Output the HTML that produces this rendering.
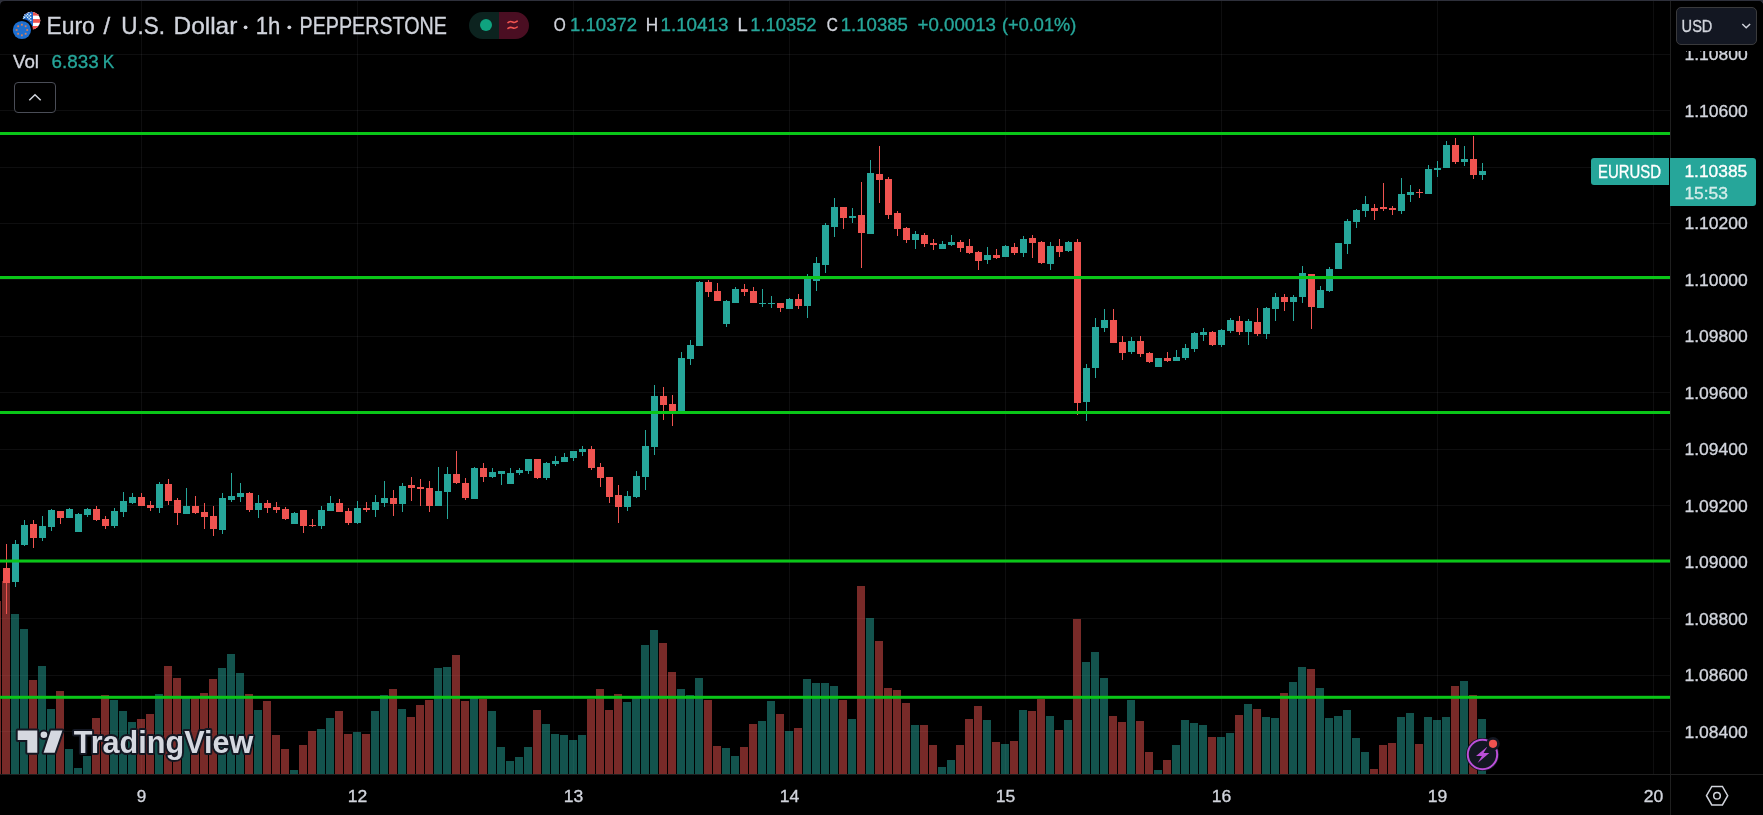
<!DOCTYPE html>
<html lang="en"><head><meta charset="utf-8"><title>EURUSD 1h chart</title>
<style>html,body{margin:0;padding:0;background:#2e303b;overflow:hidden}svg{display:block}text{font-family:"Liberation Sans",Arial,sans-serif}</style>
</head><body>
<svg width="1763" height="815" viewBox="0 0 1763 815" style="will-change:transform"><g>
<rect x="0" y="0" width="1763" height="815" fill="#2e303b"/>
<path d="M0 815V6Q0 1 5 1H1758Q1763 1 1763 6V815Z" fill="#000"/>
<g shape-rendering="crispEdges" fill="#f0f3fa" fill-opacity="0.06">
<rect x="0" y="54" width="1670" height="1"/>
<rect x="0" y="110" width="1670" height="1"/>
<rect x="0" y="167" width="1670" height="1"/>
<rect x="0" y="223" width="1670" height="1"/>
<rect x="0" y="279" width="1670" height="1"/>
<rect x="0" y="336" width="1670" height="1"/>
<rect x="0" y="392" width="1670" height="1"/>
<rect x="0" y="449" width="1670" height="1"/>
<rect x="0" y="505" width="1670" height="1"/>
<rect x="0" y="562" width="1670" height="1"/>
<rect x="0" y="618" width="1670" height="1"/>
<rect x="0" y="675" width="1670" height="1"/>
<rect x="0" y="731" width="1670" height="1"/>
<rect x="141" y="1" width="1" height="773"/>
<rect x="357" y="1" width="1" height="773"/>
<rect x="573" y="1" width="1" height="773"/>
<rect x="789" y="1" width="1" height="773"/>
<rect x="1005" y="1" width="1" height="773"/>
<rect x="1221" y="1" width="1" height="773"/>
<rect x="1437" y="1" width="1" height="773"/>
<rect x="1653" y="1" width="1" height="773"/>
</g>
<g shape-rendering="crispEdges">
<rect x="0" y="601" width="1" height="173" fill="#ef5350" fill-opacity="0.5"/>
<rect x="2" y="581" width="8" height="193" fill="#ef5350" fill-opacity="0.5"/>
<rect x="11" y="614" width="8" height="160" fill="#26a69a" fill-opacity="0.5"/>
<rect x="20" y="629" width="8" height="145" fill="#26a69a" fill-opacity="0.5"/>
<rect x="29" y="680" width="8" height="94" fill="#ef5350" fill-opacity="0.5"/>
<rect x="38" y="666" width="8" height="108" fill="#26a69a" fill-opacity="0.5"/>
<rect x="47" y="709" width="8" height="65" fill="#26a69a" fill-opacity="0.5"/>
<rect x="56" y="691" width="8" height="83" fill="#ef5350" fill-opacity="0.5"/>
<rect x="65" y="749" width="8" height="25" fill="#26a69a" fill-opacity="0.5"/>
<rect x="74" y="768" width="8" height="6" fill="#26a69a" fill-opacity="0.5"/>
<rect x="83" y="756" width="8" height="18" fill="#26a69a" fill-opacity="0.5"/>
<rect x="92" y="718" width="8" height="56" fill="#ef5350" fill-opacity="0.5"/>
<rect x="101" y="695" width="8" height="79" fill="#ef5350" fill-opacity="0.5"/>
<rect x="110" y="700" width="8" height="74" fill="#26a69a" fill-opacity="0.5"/>
<rect x="119" y="711" width="8" height="63" fill="#26a69a" fill-opacity="0.5"/>
<rect x="128" y="722" width="8" height="52" fill="#26a69a" fill-opacity="0.5"/>
<rect x="137" y="719" width="8" height="55" fill="#ef5350" fill-opacity="0.5"/>
<rect x="146" y="714" width="8" height="60" fill="#ef5350" fill-opacity="0.5"/>
<rect x="155" y="694" width="8" height="80" fill="#26a69a" fill-opacity="0.5"/>
<rect x="164" y="666" width="8" height="108" fill="#ef5350" fill-opacity="0.5"/>
<rect x="173" y="678" width="8" height="96" fill="#ef5350" fill-opacity="0.5"/>
<rect x="182" y="697" width="8" height="77" fill="#26a69a" fill-opacity="0.5"/>
<rect x="191" y="697" width="8" height="77" fill="#ef5350" fill-opacity="0.5"/>
<rect x="200" y="693" width="8" height="81" fill="#ef5350" fill-opacity="0.5"/>
<rect x="209" y="679" width="8" height="95" fill="#ef5350" fill-opacity="0.5"/>
<rect x="218" y="668" width="8" height="106" fill="#26a69a" fill-opacity="0.5"/>
<rect x="227" y="654" width="8" height="120" fill="#26a69a" fill-opacity="0.5"/>
<rect x="236" y="673" width="8" height="101" fill="#26a69a" fill-opacity="0.5"/>
<rect x="245" y="694" width="8" height="80" fill="#ef5350" fill-opacity="0.5"/>
<rect x="254" y="710" width="8" height="64" fill="#26a69a" fill-opacity="0.5"/>
<rect x="263" y="701" width="8" height="73" fill="#ef5350" fill-opacity="0.5"/>
<rect x="272" y="735" width="8" height="39" fill="#ef5350" fill-opacity="0.5"/>
<rect x="281" y="749" width="8" height="25" fill="#ef5350" fill-opacity="0.5"/>
<rect x="290" y="770" width="8" height="4" fill="#26a69a" fill-opacity="0.5"/>
<rect x="299" y="745" width="8" height="29" fill="#ef5350" fill-opacity="0.5"/>
<rect x="308" y="731" width="8" height="43" fill="#ef5350" fill-opacity="0.5"/>
<rect x="317" y="729" width="8" height="45" fill="#26a69a" fill-opacity="0.5"/>
<rect x="326" y="718" width="8" height="56" fill="#26a69a" fill-opacity="0.5"/>
<rect x="335" y="711" width="8" height="63" fill="#ef5350" fill-opacity="0.5"/>
<rect x="344" y="734" width="8" height="40" fill="#ef5350" fill-opacity="0.5"/>
<rect x="353" y="732" width="8" height="42" fill="#26a69a" fill-opacity="0.5"/>
<rect x="362" y="734" width="8" height="40" fill="#ef5350" fill-opacity="0.5"/>
<rect x="371" y="711" width="8" height="63" fill="#26a69a" fill-opacity="0.5"/>
<rect x="380" y="695" width="8" height="79" fill="#26a69a" fill-opacity="0.5"/>
<rect x="389" y="689" width="8" height="85" fill="#ef5350" fill-opacity="0.5"/>
<rect x="398" y="709" width="8" height="65" fill="#26a69a" fill-opacity="0.5"/>
<rect x="407" y="717" width="8" height="57" fill="#ef5350" fill-opacity="0.5"/>
<rect x="416" y="705" width="8" height="69" fill="#ef5350" fill-opacity="0.5"/>
<rect x="425" y="700" width="8" height="74" fill="#ef5350" fill-opacity="0.5"/>
<rect x="434" y="668" width="8" height="106" fill="#26a69a" fill-opacity="0.5"/>
<rect x="443" y="667" width="8" height="107" fill="#26a69a" fill-opacity="0.5"/>
<rect x="452" y="655" width="8" height="119" fill="#ef5350" fill-opacity="0.5"/>
<rect x="461" y="701" width="8" height="73" fill="#ef5350" fill-opacity="0.5"/>
<rect x="470" y="698" width="8" height="76" fill="#26a69a" fill-opacity="0.5"/>
<rect x="479" y="699" width="8" height="75" fill="#ef5350" fill-opacity="0.5"/>
<rect x="488" y="711" width="8" height="63" fill="#26a69a" fill-opacity="0.5"/>
<rect x="497" y="747" width="8" height="27" fill="#26a69a" fill-opacity="0.5"/>
<rect x="506" y="761" width="8" height="13" fill="#26a69a" fill-opacity="0.5"/>
<rect x="515" y="757" width="8" height="17" fill="#26a69a" fill-opacity="0.5"/>
<rect x="524" y="747" width="8" height="27" fill="#26a69a" fill-opacity="0.5"/>
<rect x="533" y="710" width="8" height="64" fill="#ef5350" fill-opacity="0.5"/>
<rect x="542" y="724" width="8" height="50" fill="#26a69a" fill-opacity="0.5"/>
<rect x="551" y="734" width="8" height="40" fill="#26a69a" fill-opacity="0.5"/>
<rect x="560" y="735" width="8" height="39" fill="#26a69a" fill-opacity="0.5"/>
<rect x="569" y="740" width="8" height="34" fill="#26a69a" fill-opacity="0.5"/>
<rect x="578" y="735" width="8" height="39" fill="#26a69a" fill-opacity="0.5"/>
<rect x="587" y="699" width="8" height="75" fill="#ef5350" fill-opacity="0.5"/>
<rect x="596" y="689" width="8" height="85" fill="#ef5350" fill-opacity="0.5"/>
<rect x="605" y="710" width="8" height="64" fill="#ef5350" fill-opacity="0.5"/>
<rect x="614" y="694" width="8" height="80" fill="#ef5350" fill-opacity="0.5"/>
<rect x="623" y="702" width="8" height="72" fill="#26a69a" fill-opacity="0.5"/>
<rect x="632" y="698" width="8" height="76" fill="#26a69a" fill-opacity="0.5"/>
<rect x="641" y="645" width="8" height="129" fill="#26a69a" fill-opacity="0.5"/>
<rect x="650" y="630" width="8" height="144" fill="#26a69a" fill-opacity="0.5"/>
<rect x="659" y="643" width="8" height="131" fill="#ef5350" fill-opacity="0.5"/>
<rect x="668" y="672" width="8" height="102" fill="#ef5350" fill-opacity="0.5"/>
<rect x="677" y="689" width="8" height="85" fill="#26a69a" fill-opacity="0.5"/>
<rect x="686" y="695" width="8" height="79" fill="#26a69a" fill-opacity="0.5"/>
<rect x="695" y="678" width="8" height="96" fill="#26a69a" fill-opacity="0.5"/>
<rect x="704" y="700" width="8" height="74" fill="#ef5350" fill-opacity="0.5"/>
<rect x="713" y="746" width="8" height="28" fill="#ef5350" fill-opacity="0.5"/>
<rect x="722" y="748" width="8" height="26" fill="#26a69a" fill-opacity="0.5"/>
<rect x="731" y="756" width="8" height="18" fill="#26a69a" fill-opacity="0.5"/>
<rect x="740" y="747" width="8" height="27" fill="#ef5350" fill-opacity="0.5"/>
<rect x="749" y="724" width="8" height="50" fill="#ef5350" fill-opacity="0.5"/>
<rect x="758" y="721" width="8" height="53" fill="#26a69a" fill-opacity="0.5"/>
<rect x="767" y="701" width="8" height="73" fill="#26a69a" fill-opacity="0.5"/>
<rect x="776" y="714" width="8" height="60" fill="#ef5350" fill-opacity="0.5"/>
<rect x="785" y="731" width="8" height="43" fill="#26a69a" fill-opacity="0.5"/>
<rect x="794" y="728" width="8" height="46" fill="#ef5350" fill-opacity="0.5"/>
<rect x="803" y="679" width="8" height="95" fill="#26a69a" fill-opacity="0.5"/>
<rect x="812" y="683" width="8" height="91" fill="#26a69a" fill-opacity="0.5"/>
<rect x="821" y="683" width="8" height="91" fill="#26a69a" fill-opacity="0.5"/>
<rect x="830" y="686" width="8" height="88" fill="#26a69a" fill-opacity="0.5"/>
<rect x="839" y="700" width="8" height="74" fill="#ef5350" fill-opacity="0.5"/>
<rect x="848" y="719" width="8" height="55" fill="#26a69a" fill-opacity="0.5"/>
<rect x="857" y="586" width="8" height="188" fill="#ef5350" fill-opacity="0.5"/>
<rect x="866" y="618" width="8" height="156" fill="#26a69a" fill-opacity="0.5"/>
<rect x="875" y="641" width="8" height="133" fill="#ef5350" fill-opacity="0.5"/>
<rect x="884" y="688" width="8" height="86" fill="#ef5350" fill-opacity="0.5"/>
<rect x="893" y="690" width="8" height="84" fill="#ef5350" fill-opacity="0.5"/>
<rect x="902" y="703" width="8" height="71" fill="#ef5350" fill-opacity="0.5"/>
<rect x="911" y="725" width="8" height="49" fill="#26a69a" fill-opacity="0.5"/>
<rect x="920" y="725" width="8" height="49" fill="#ef5350" fill-opacity="0.5"/>
<rect x="929" y="745" width="8" height="29" fill="#ef5350" fill-opacity="0.5"/>
<rect x="938" y="767" width="8" height="7" fill="#26a69a" fill-opacity="0.5"/>
<rect x="947" y="760" width="8" height="14" fill="#26a69a" fill-opacity="0.5"/>
<rect x="956" y="745" width="8" height="29" fill="#ef5350" fill-opacity="0.5"/>
<rect x="965" y="719" width="8" height="55" fill="#ef5350" fill-opacity="0.5"/>
<rect x="974" y="706" width="8" height="68" fill="#ef5350" fill-opacity="0.5"/>
<rect x="983" y="720" width="8" height="54" fill="#26a69a" fill-opacity="0.5"/>
<rect x="992" y="742" width="8" height="32" fill="#ef5350" fill-opacity="0.5"/>
<rect x="1001" y="744" width="8" height="30" fill="#26a69a" fill-opacity="0.5"/>
<rect x="1010" y="741" width="8" height="33" fill="#ef5350" fill-opacity="0.5"/>
<rect x="1019" y="710" width="8" height="64" fill="#26a69a" fill-opacity="0.5"/>
<rect x="1028" y="711" width="8" height="63" fill="#ef5350" fill-opacity="0.5"/>
<rect x="1037" y="699" width="8" height="75" fill="#ef5350" fill-opacity="0.5"/>
<rect x="1046" y="716" width="8" height="58" fill="#26a69a" fill-opacity="0.5"/>
<rect x="1055" y="730" width="8" height="44" fill="#ef5350" fill-opacity="0.5"/>
<rect x="1064" y="720" width="8" height="54" fill="#26a69a" fill-opacity="0.5"/>
<rect x="1073" y="619" width="8" height="155" fill="#ef5350" fill-opacity="0.5"/>
<rect x="1082" y="662" width="8" height="112" fill="#26a69a" fill-opacity="0.5"/>
<rect x="1091" y="652" width="8" height="122" fill="#26a69a" fill-opacity="0.5"/>
<rect x="1100" y="678" width="8" height="96" fill="#26a69a" fill-opacity="0.5"/>
<rect x="1109" y="716" width="8" height="58" fill="#ef5350" fill-opacity="0.5"/>
<rect x="1118" y="722" width="8" height="52" fill="#ef5350" fill-opacity="0.5"/>
<rect x="1127" y="700" width="8" height="74" fill="#26a69a" fill-opacity="0.5"/>
<rect x="1136" y="721" width="8" height="53" fill="#ef5350" fill-opacity="0.5"/>
<rect x="1145" y="752" width="8" height="22" fill="#ef5350" fill-opacity="0.5"/>
<rect x="1154" y="770" width="8" height="4" fill="#26a69a" fill-opacity="0.5"/>
<rect x="1163" y="760" width="8" height="14" fill="#ef5350" fill-opacity="0.5"/>
<rect x="1172" y="745" width="8" height="29" fill="#26a69a" fill-opacity="0.5"/>
<rect x="1181" y="720" width="8" height="54" fill="#26a69a" fill-opacity="0.5"/>
<rect x="1190" y="723" width="8" height="51" fill="#26a69a" fill-opacity="0.5"/>
<rect x="1199" y="725" width="8" height="49" fill="#26a69a" fill-opacity="0.5"/>
<rect x="1208" y="737" width="8" height="37" fill="#ef5350" fill-opacity="0.5"/>
<rect x="1217" y="737" width="8" height="37" fill="#26a69a" fill-opacity="0.5"/>
<rect x="1226" y="733" width="8" height="41" fill="#26a69a" fill-opacity="0.5"/>
<rect x="1235" y="715" width="8" height="59" fill="#ef5350" fill-opacity="0.5"/>
<rect x="1244" y="704" width="8" height="70" fill="#26a69a" fill-opacity="0.5"/>
<rect x="1253" y="709" width="8" height="65" fill="#ef5350" fill-opacity="0.5"/>
<rect x="1262" y="717" width="8" height="57" fill="#26a69a" fill-opacity="0.5"/>
<rect x="1271" y="718" width="8" height="56" fill="#26a69a" fill-opacity="0.5"/>
<rect x="1280" y="693" width="8" height="81" fill="#ef5350" fill-opacity="0.5"/>
<rect x="1289" y="682" width="8" height="92" fill="#26a69a" fill-opacity="0.5"/>
<rect x="1298" y="667" width="8" height="107" fill="#26a69a" fill-opacity="0.5"/>
<rect x="1307" y="669" width="8" height="105" fill="#ef5350" fill-opacity="0.5"/>
<rect x="1316" y="688" width="8" height="86" fill="#26a69a" fill-opacity="0.5"/>
<rect x="1325" y="718" width="8" height="56" fill="#26a69a" fill-opacity="0.5"/>
<rect x="1334" y="716" width="8" height="58" fill="#26a69a" fill-opacity="0.5"/>
<rect x="1343" y="710" width="8" height="64" fill="#26a69a" fill-opacity="0.5"/>
<rect x="1352" y="738" width="8" height="36" fill="#26a69a" fill-opacity="0.5"/>
<rect x="1361" y="752" width="8" height="22" fill="#26a69a" fill-opacity="0.5"/>
<rect x="1370" y="769" width="8" height="5" fill="#ef5350" fill-opacity="0.5"/>
<rect x="1379" y="745" width="8" height="29" fill="#ef5350" fill-opacity="0.5"/>
<rect x="1388" y="743" width="8" height="31" fill="#ef5350" fill-opacity="0.5"/>
<rect x="1397" y="717" width="8" height="57" fill="#26a69a" fill-opacity="0.5"/>
<rect x="1406" y="713" width="8" height="61" fill="#26a69a" fill-opacity="0.5"/>
<rect x="1415" y="744" width="8" height="30" fill="#ef5350" fill-opacity="0.5"/>
<rect x="1424" y="717" width="8" height="57" fill="#26a69a" fill-opacity="0.5"/>
<rect x="1433" y="720" width="8" height="54" fill="#26a69a" fill-opacity="0.5"/>
<rect x="1442" y="717" width="8" height="57" fill="#26a69a" fill-opacity="0.5"/>
<rect x="1451" y="686" width="8" height="88" fill="#ef5350" fill-opacity="0.5"/>
<rect x="1460" y="681" width="8" height="93" fill="#26a69a" fill-opacity="0.5"/>
<rect x="1469" y="695" width="8" height="79" fill="#ef5350" fill-opacity="0.5"/>
<rect x="1478" y="719" width="8" height="55" fill="#26a69a" fill-opacity="0.5"/>
</g>
<g shape-rendering="crispEdges">
<rect x="6" y="544" width="1" height="70" fill="#ef5350"/>
<rect x="3" y="568" width="7" height="15" fill="#ef5350"/>
<rect x="15" y="540" width="1" height="47" fill="#26a69a"/>
<rect x="12" y="544" width="7" height="38" fill="#26a69a"/>
<rect x="24" y="520" width="1" height="26" fill="#26a69a"/>
<rect x="21" y="525" width="7" height="20" fill="#26a69a"/>
<rect x="33" y="520" width="1" height="28" fill="#ef5350"/>
<rect x="30" y="524" width="7" height="14" fill="#ef5350"/>
<rect x="42" y="516" width="1" height="25" fill="#26a69a"/>
<rect x="39" y="526" width="7" height="12" fill="#26a69a"/>
<rect x="51" y="509" width="1" height="22" fill="#26a69a"/>
<rect x="48" y="510" width="7" height="17" fill="#26a69a"/>
<rect x="60" y="511" width="1" height="13" fill="#ef5350"/>
<rect x="57" y="511" width="7" height="7" fill="#ef5350"/>
<rect x="69" y="508" width="1" height="10" fill="#26a69a"/>
<rect x="66" y="509" width="7" height="9" fill="#26a69a"/>
<rect x="78" y="513" width="1" height="19" fill="#26a69a"/>
<rect x="75" y="514" width="7" height="18" fill="#26a69a"/>
<rect x="87" y="508" width="1" height="9" fill="#26a69a"/>
<rect x="84" y="509" width="7" height="6" fill="#26a69a"/>
<rect x="96" y="506" width="1" height="15" fill="#ef5350"/>
<rect x="93" y="509" width="7" height="11" fill="#ef5350"/>
<rect x="105" y="516" width="1" height="13" fill="#ef5350"/>
<rect x="102" y="519" width="7" height="7" fill="#ef5350"/>
<rect x="114" y="508" width="1" height="20" fill="#26a69a"/>
<rect x="111" y="511" width="7" height="15" fill="#26a69a"/>
<rect x="123" y="492" width="1" height="25" fill="#26a69a"/>
<rect x="120" y="501" width="7" height="11" fill="#26a69a"/>
<rect x="132" y="493" width="1" height="11" fill="#26a69a"/>
<rect x="129" y="497" width="7" height="6" fill="#26a69a"/>
<rect x="141" y="493" width="1" height="13" fill="#ef5350"/>
<rect x="138" y="497" width="7" height="9" fill="#ef5350"/>
<rect x="150" y="501" width="1" height="10" fill="#ef5350"/>
<rect x="147" y="505" width="7" height="3" fill="#ef5350"/>
<rect x="159" y="482" width="1" height="31" fill="#26a69a"/>
<rect x="156" y="484" width="7" height="24" fill="#26a69a"/>
<rect x="168" y="479" width="1" height="26" fill="#ef5350"/>
<rect x="165" y="484" width="7" height="17" fill="#ef5350"/>
<rect x="177" y="498" width="1" height="27" fill="#ef5350"/>
<rect x="174" y="500" width="7" height="13" fill="#ef5350"/>
<rect x="186" y="488" width="1" height="26" fill="#26a69a"/>
<rect x="183" y="506" width="7" height="8" fill="#26a69a"/>
<rect x="195" y="496" width="1" height="18" fill="#ef5350"/>
<rect x="192" y="506" width="7" height="7" fill="#ef5350"/>
<rect x="204" y="503" width="1" height="26" fill="#ef5350"/>
<rect x="201" y="512" width="7" height="5" fill="#ef5350"/>
<rect x="213" y="506" width="1" height="30" fill="#ef5350"/>
<rect x="210" y="516" width="7" height="13" fill="#ef5350"/>
<rect x="222" y="493" width="1" height="41" fill="#26a69a"/>
<rect x="219" y="498" width="7" height="32" fill="#26a69a"/>
<rect x="231" y="473" width="1" height="29" fill="#26a69a"/>
<rect x="228" y="496" width="7" height="4" fill="#26a69a"/>
<rect x="240" y="483" width="1" height="19" fill="#26a69a"/>
<rect x="237" y="493" width="7" height="4" fill="#26a69a"/>
<rect x="249" y="492" width="1" height="20" fill="#ef5350"/>
<rect x="246" y="493" width="7" height="17" fill="#ef5350"/>
<rect x="258" y="495" width="1" height="23" fill="#26a69a"/>
<rect x="255" y="503" width="7" height="7" fill="#26a69a"/>
<rect x="267" y="500" width="1" height="13" fill="#ef5350"/>
<rect x="264" y="503" width="7" height="5" fill="#ef5350"/>
<rect x="276" y="502" width="1" height="11" fill="#ef5350"/>
<rect x="273" y="507" width="7" height="3" fill="#ef5350"/>
<rect x="285" y="507" width="1" height="13" fill="#ef5350"/>
<rect x="282" y="509" width="7" height="10" fill="#ef5350"/>
<rect x="294" y="512" width="1" height="12" fill="#26a69a"/>
<rect x="291" y="513" width="7" height="11" fill="#26a69a"/>
<rect x="303" y="510" width="1" height="23" fill="#ef5350"/>
<rect x="300" y="510" width="7" height="16" fill="#ef5350"/>
<rect x="312" y="519" width="1" height="8" fill="#ef5350"/>
<rect x="309" y="525" width="7" height="1" fill="#ef5350"/>
<rect x="321" y="506" width="1" height="23" fill="#26a69a"/>
<rect x="318" y="510" width="7" height="16" fill="#26a69a"/>
<rect x="330" y="496" width="1" height="15" fill="#26a69a"/>
<rect x="327" y="503" width="7" height="8" fill="#26a69a"/>
<rect x="339" y="499" width="1" height="13" fill="#ef5350"/>
<rect x="336" y="503" width="7" height="9" fill="#ef5350"/>
<rect x="348" y="508" width="1" height="17" fill="#ef5350"/>
<rect x="345" y="511" width="7" height="12" fill="#ef5350"/>
<rect x="357" y="501" width="1" height="23" fill="#26a69a"/>
<rect x="354" y="508" width="7" height="15" fill="#26a69a"/>
<rect x="366" y="502" width="1" height="10" fill="#ef5350"/>
<rect x="363" y="508" width="7" height="2" fill="#ef5350"/>
<rect x="375" y="495" width="1" height="22" fill="#26a69a"/>
<rect x="372" y="502" width="7" height="8" fill="#26a69a"/>
<rect x="384" y="481" width="1" height="26" fill="#26a69a"/>
<rect x="381" y="498" width="7" height="5" fill="#26a69a"/>
<rect x="393" y="490" width="1" height="26" fill="#ef5350"/>
<rect x="390" y="498" width="7" height="6" fill="#ef5350"/>
<rect x="402" y="483" width="1" height="29" fill="#26a69a"/>
<rect x="399" y="486" width="7" height="18" fill="#26a69a"/>
<rect x="411" y="477" width="1" height="24" fill="#ef5350"/>
<rect x="408" y="485" width="7" height="3" fill="#ef5350"/>
<rect x="420" y="479" width="1" height="27" fill="#ef5350"/>
<rect x="417" y="487" width="7" height="2" fill="#ef5350"/>
<rect x="429" y="481" width="1" height="31" fill="#ef5350"/>
<rect x="426" y="488" width="7" height="18" fill="#ef5350"/>
<rect x="438" y="467" width="1" height="39" fill="#26a69a"/>
<rect x="435" y="491" width="7" height="15" fill="#26a69a"/>
<rect x="447" y="467" width="1" height="52" fill="#26a69a"/>
<rect x="444" y="474" width="7" height="18" fill="#26a69a"/>
<rect x="456" y="451" width="1" height="33" fill="#ef5350"/>
<rect x="453" y="474" width="7" height="9" fill="#ef5350"/>
<rect x="465" y="478" width="1" height="22" fill="#ef5350"/>
<rect x="462" y="483" width="7" height="15" fill="#ef5350"/>
<rect x="474" y="467" width="1" height="32" fill="#26a69a"/>
<rect x="471" y="468" width="7" height="31" fill="#26a69a"/>
<rect x="483" y="463" width="1" height="19" fill="#ef5350"/>
<rect x="480" y="468" width="7" height="9" fill="#ef5350"/>
<rect x="492" y="468" width="1" height="10" fill="#26a69a"/>
<rect x="489" y="472" width="7" height="5" fill="#26a69a"/>
<rect x="501" y="471" width="1" height="14" fill="#26a69a"/>
<rect x="498" y="471" width="7" height="3" fill="#26a69a"/>
<rect x="510" y="468" width="1" height="16" fill="#26a69a"/>
<rect x="507" y="473" width="7" height="11" fill="#26a69a"/>
<rect x="519" y="468" width="1" height="7" fill="#26a69a"/>
<rect x="516" y="470" width="7" height="3" fill="#26a69a"/>
<rect x="528" y="459" width="1" height="15" fill="#26a69a"/>
<rect x="525" y="459" width="7" height="12" fill="#26a69a"/>
<rect x="537" y="459" width="1" height="20" fill="#ef5350"/>
<rect x="534" y="459" width="7" height="19" fill="#ef5350"/>
<rect x="546" y="462" width="1" height="18" fill="#26a69a"/>
<rect x="543" y="463" width="7" height="15" fill="#26a69a"/>
<rect x="555" y="456" width="1" height="10" fill="#26a69a"/>
<rect x="552" y="461" width="7" height="3" fill="#26a69a"/>
<rect x="564" y="453" width="1" height="9" fill="#26a69a"/>
<rect x="561" y="457" width="7" height="5" fill="#26a69a"/>
<rect x="573" y="451" width="1" height="10" fill="#26a69a"/>
<rect x="570" y="451" width="7" height="7" fill="#26a69a"/>
<rect x="582" y="446" width="1" height="10" fill="#26a69a"/>
<rect x="579" y="449" width="7" height="3" fill="#26a69a"/>
<rect x="591" y="446" width="1" height="24" fill="#ef5350"/>
<rect x="588" y="449" width="7" height="19" fill="#ef5350"/>
<rect x="600" y="463" width="1" height="24" fill="#ef5350"/>
<rect x="597" y="467" width="7" height="11" fill="#ef5350"/>
<rect x="609" y="477" width="1" height="26" fill="#ef5350"/>
<rect x="606" y="477" width="7" height="20" fill="#ef5350"/>
<rect x="618" y="485" width="1" height="38" fill="#ef5350"/>
<rect x="615" y="495" width="7" height="12" fill="#ef5350"/>
<rect x="627" y="491" width="1" height="20" fill="#26a69a"/>
<rect x="624" y="496" width="7" height="11" fill="#26a69a"/>
<rect x="636" y="471" width="1" height="27" fill="#26a69a"/>
<rect x="633" y="476" width="7" height="21" fill="#26a69a"/>
<rect x="645" y="430" width="1" height="60" fill="#26a69a"/>
<rect x="642" y="446" width="7" height="31" fill="#26a69a"/>
<rect x="654" y="385" width="1" height="70" fill="#26a69a"/>
<rect x="651" y="396" width="7" height="51" fill="#26a69a"/>
<rect x="663" y="387" width="1" height="33" fill="#ef5350"/>
<rect x="660" y="396" width="7" height="9" fill="#ef5350"/>
<rect x="672" y="395" width="1" height="31" fill="#ef5350"/>
<rect x="669" y="404" width="7" height="8" fill="#ef5350"/>
<rect x="681" y="352" width="1" height="60" fill="#26a69a"/>
<rect x="678" y="358" width="7" height="54" fill="#26a69a"/>
<rect x="690" y="340" width="1" height="25" fill="#26a69a"/>
<rect x="687" y="345" width="7" height="14" fill="#26a69a"/>
<rect x="699" y="281" width="1" height="65" fill="#26a69a"/>
<rect x="696" y="282" width="7" height="64" fill="#26a69a"/>
<rect x="708" y="280" width="1" height="17" fill="#ef5350"/>
<rect x="705" y="282" width="7" height="10" fill="#ef5350"/>
<rect x="717" y="283" width="1" height="18" fill="#ef5350"/>
<rect x="714" y="291" width="7" height="10" fill="#ef5350"/>
<rect x="726" y="300" width="1" height="27" fill="#26a69a"/>
<rect x="723" y="301" width="7" height="23" fill="#26a69a"/>
<rect x="735" y="287" width="1" height="16" fill="#26a69a"/>
<rect x="732" y="289" width="7" height="14" fill="#26a69a"/>
<rect x="744" y="284" width="1" height="12" fill="#ef5350"/>
<rect x="741" y="289" width="7" height="3" fill="#ef5350"/>
<rect x="753" y="287" width="1" height="16" fill="#ef5350"/>
<rect x="750" y="291" width="7" height="12" fill="#ef5350"/>
<rect x="762" y="289" width="1" height="18" fill="#26a69a"/>
<rect x="759" y="303" width="7" height="1" fill="#26a69a"/>
<rect x="771" y="296" width="1" height="12" fill="#26a69a"/>
<rect x="768" y="303" width="7" height="1" fill="#26a69a"/>
<rect x="780" y="303" width="1" height="9" fill="#ef5350"/>
<rect x="777" y="303" width="7" height="5" fill="#ef5350"/>
<rect x="789" y="298" width="1" height="11" fill="#26a69a"/>
<rect x="786" y="299" width="7" height="10" fill="#26a69a"/>
<rect x="798" y="294" width="1" height="15" fill="#ef5350"/>
<rect x="795" y="299" width="7" height="7" fill="#ef5350"/>
<rect x="807" y="274" width="1" height="44" fill="#26a69a"/>
<rect x="804" y="278" width="7" height="28" fill="#26a69a"/>
<rect x="816" y="257" width="1" height="34" fill="#26a69a"/>
<rect x="813" y="263" width="7" height="18" fill="#26a69a"/>
<rect x="825" y="223" width="1" height="50" fill="#26a69a"/>
<rect x="822" y="225" width="7" height="40" fill="#26a69a"/>
<rect x="834" y="198" width="1" height="39" fill="#26a69a"/>
<rect x="831" y="207" width="7" height="20" fill="#26a69a"/>
<rect x="843" y="207" width="1" height="22" fill="#ef5350"/>
<rect x="840" y="207" width="7" height="11" fill="#ef5350"/>
<rect x="852" y="208" width="1" height="15" fill="#26a69a"/>
<rect x="849" y="216" width="7" height="2" fill="#26a69a"/>
<rect x="861" y="182" width="1" height="86" fill="#ef5350"/>
<rect x="858" y="215" width="7" height="18" fill="#ef5350"/>
<rect x="870" y="160" width="1" height="74" fill="#26a69a"/>
<rect x="867" y="173" width="7" height="61" fill="#26a69a"/>
<rect x="879" y="146" width="1" height="57" fill="#ef5350"/>
<rect x="876" y="174" width="7" height="6" fill="#ef5350"/>
<rect x="888" y="177" width="1" height="42" fill="#ef5350"/>
<rect x="885" y="179" width="7" height="36" fill="#ef5350"/>
<rect x="897" y="211" width="1" height="25" fill="#ef5350"/>
<rect x="894" y="213" width="7" height="16" fill="#ef5350"/>
<rect x="906" y="227" width="1" height="16" fill="#ef5350"/>
<rect x="903" y="228" width="7" height="12" fill="#ef5350"/>
<rect x="915" y="231" width="1" height="18" fill="#26a69a"/>
<rect x="912" y="234" width="7" height="6" fill="#26a69a"/>
<rect x="924" y="233" width="1" height="14" fill="#ef5350"/>
<rect x="921" y="235" width="7" height="9" fill="#ef5350"/>
<rect x="933" y="239" width="1" height="11" fill="#ef5350"/>
<rect x="930" y="243" width="7" height="2" fill="#ef5350"/>
<rect x="942" y="241" width="1" height="8" fill="#26a69a"/>
<rect x="939" y="244" width="7" height="5" fill="#26a69a"/>
<rect x="951" y="235" width="1" height="11" fill="#26a69a"/>
<rect x="948" y="242" width="7" height="3" fill="#26a69a"/>
<rect x="960" y="240" width="1" height="12" fill="#ef5350"/>
<rect x="957" y="242" width="7" height="6" fill="#ef5350"/>
<rect x="969" y="239" width="1" height="15" fill="#ef5350"/>
<rect x="966" y="246" width="7" height="7" fill="#ef5350"/>
<rect x="978" y="251" width="1" height="19" fill="#ef5350"/>
<rect x="975" y="252" width="7" height="9" fill="#ef5350"/>
<rect x="987" y="247" width="1" height="17" fill="#26a69a"/>
<rect x="984" y="255" width="7" height="5" fill="#26a69a"/>
<rect x="996" y="249" width="1" height="10" fill="#ef5350"/>
<rect x="993" y="255" width="7" height="3" fill="#ef5350"/>
<rect x="1005" y="245" width="1" height="12" fill="#26a69a"/>
<rect x="1002" y="246" width="7" height="11" fill="#26a69a"/>
<rect x="1014" y="243" width="1" height="12" fill="#ef5350"/>
<rect x="1011" y="247" width="7" height="6" fill="#ef5350"/>
<rect x="1023" y="236" width="1" height="21" fill="#26a69a"/>
<rect x="1020" y="239" width="7" height="14" fill="#26a69a"/>
<rect x="1032" y="235" width="1" height="23" fill="#ef5350"/>
<rect x="1029" y="238" width="7" height="5" fill="#ef5350"/>
<rect x="1041" y="241" width="1" height="23" fill="#ef5350"/>
<rect x="1038" y="242" width="7" height="21" fill="#ef5350"/>
<rect x="1050" y="242" width="1" height="28" fill="#26a69a"/>
<rect x="1047" y="246" width="7" height="18" fill="#26a69a"/>
<rect x="1059" y="239" width="1" height="18" fill="#ef5350"/>
<rect x="1056" y="246" width="7" height="6" fill="#ef5350"/>
<rect x="1068" y="241" width="1" height="11" fill="#26a69a"/>
<rect x="1065" y="242" width="7" height="9" fill="#26a69a"/>
<rect x="1077" y="239" width="1" height="176" fill="#ef5350"/>
<rect x="1074" y="242" width="7" height="161" fill="#ef5350"/>
<rect x="1086" y="364" width="1" height="57" fill="#26a69a"/>
<rect x="1083" y="368" width="7" height="34" fill="#26a69a"/>
<rect x="1095" y="318" width="1" height="60" fill="#26a69a"/>
<rect x="1092" y="327" width="7" height="41" fill="#26a69a"/>
<rect x="1104" y="309" width="1" height="23" fill="#26a69a"/>
<rect x="1101" y="320" width="7" height="8" fill="#26a69a"/>
<rect x="1113" y="309" width="1" height="34" fill="#ef5350"/>
<rect x="1110" y="320" width="7" height="23" fill="#ef5350"/>
<rect x="1122" y="336" width="1" height="24" fill="#ef5350"/>
<rect x="1119" y="342" width="7" height="11" fill="#ef5350"/>
<rect x="1131" y="337" width="1" height="17" fill="#26a69a"/>
<rect x="1128" y="341" width="7" height="11" fill="#26a69a"/>
<rect x="1140" y="336" width="1" height="21" fill="#ef5350"/>
<rect x="1137" y="341" width="7" height="13" fill="#ef5350"/>
<rect x="1149" y="352" width="1" height="11" fill="#ef5350"/>
<rect x="1146" y="353" width="7" height="9" fill="#ef5350"/>
<rect x="1158" y="358" width="1" height="9" fill="#26a69a"/>
<rect x="1155" y="358" width="7" height="9" fill="#26a69a"/>
<rect x="1167" y="352" width="1" height="10" fill="#ef5350"/>
<rect x="1164" y="358" width="7" height="3" fill="#ef5350"/>
<rect x="1176" y="350" width="1" height="11" fill="#26a69a"/>
<rect x="1173" y="357" width="7" height="4" fill="#26a69a"/>
<rect x="1185" y="344" width="1" height="16" fill="#26a69a"/>
<rect x="1182" y="348" width="7" height="10" fill="#26a69a"/>
<rect x="1194" y="332" width="1" height="20" fill="#26a69a"/>
<rect x="1191" y="333" width="7" height="16" fill="#26a69a"/>
<rect x="1203" y="328" width="1" height="13" fill="#26a69a"/>
<rect x="1200" y="332" width="7" height="3" fill="#26a69a"/>
<rect x="1212" y="331" width="1" height="15" fill="#ef5350"/>
<rect x="1209" y="332" width="7" height="13" fill="#ef5350"/>
<rect x="1221" y="329" width="1" height="18" fill="#26a69a"/>
<rect x="1218" y="330" width="7" height="15" fill="#26a69a"/>
<rect x="1230" y="318" width="1" height="15" fill="#26a69a"/>
<rect x="1227" y="320" width="7" height="11" fill="#26a69a"/>
<rect x="1239" y="316" width="1" height="19" fill="#ef5350"/>
<rect x="1236" y="321" width="7" height="11" fill="#ef5350"/>
<rect x="1248" y="319" width="1" height="26" fill="#26a69a"/>
<rect x="1245" y="321" width="7" height="11" fill="#26a69a"/>
<rect x="1257" y="308" width="1" height="28" fill="#ef5350"/>
<rect x="1254" y="322" width="7" height="12" fill="#ef5350"/>
<rect x="1266" y="307" width="1" height="32" fill="#26a69a"/>
<rect x="1263" y="308" width="7" height="26" fill="#26a69a"/>
<rect x="1275" y="293" width="1" height="28" fill="#26a69a"/>
<rect x="1272" y="297" width="7" height="12" fill="#26a69a"/>
<rect x="1284" y="294" width="1" height="17" fill="#ef5350"/>
<rect x="1281" y="297" width="7" height="5" fill="#ef5350"/>
<rect x="1293" y="295" width="1" height="26" fill="#26a69a"/>
<rect x="1290" y="297" width="7" height="5" fill="#26a69a"/>
<rect x="1302" y="266" width="1" height="37" fill="#26a69a"/>
<rect x="1299" y="273" width="7" height="24" fill="#26a69a"/>
<rect x="1311" y="274" width="1" height="55" fill="#ef5350"/>
<rect x="1308" y="274" width="7" height="33" fill="#ef5350"/>
<rect x="1320" y="286" width="1" height="22" fill="#26a69a"/>
<rect x="1317" y="290" width="7" height="18" fill="#26a69a"/>
<rect x="1329" y="267" width="1" height="25" fill="#26a69a"/>
<rect x="1326" y="269" width="7" height="22" fill="#26a69a"/>
<rect x="1338" y="243" width="1" height="26" fill="#26a69a"/>
<rect x="1335" y="243" width="7" height="26" fill="#26a69a"/>
<rect x="1347" y="219" width="1" height="35" fill="#26a69a"/>
<rect x="1344" y="221" width="7" height="23" fill="#26a69a"/>
<rect x="1356" y="209" width="1" height="19" fill="#26a69a"/>
<rect x="1353" y="210" width="7" height="12" fill="#26a69a"/>
<rect x="1365" y="196" width="1" height="21" fill="#26a69a"/>
<rect x="1362" y="204" width="7" height="7" fill="#26a69a"/>
<rect x="1374" y="204" width="1" height="16" fill="#ef5350"/>
<rect x="1371" y="208" width="7" height="3" fill="#ef5350"/>
<rect x="1383" y="183" width="1" height="28" fill="#ef5350"/>
<rect x="1380" y="207" width="7" height="2" fill="#ef5350"/>
<rect x="1392" y="206" width="1" height="9" fill="#ef5350"/>
<rect x="1389" y="208" width="7" height="2" fill="#ef5350"/>
<rect x="1401" y="178" width="1" height="36" fill="#26a69a"/>
<rect x="1398" y="194" width="7" height="17" fill="#26a69a"/>
<rect x="1410" y="185" width="1" height="17" fill="#26a69a"/>
<rect x="1407" y="192" width="7" height="3" fill="#26a69a"/>
<rect x="1419" y="189" width="1" height="9" fill="#ef5350"/>
<rect x="1416" y="192" width="7" height="1" fill="#ef5350"/>
<rect x="1428" y="165" width="1" height="29" fill="#26a69a"/>
<rect x="1425" y="169" width="7" height="25" fill="#26a69a"/>
<rect x="1437" y="161" width="1" height="16" fill="#26a69a"/>
<rect x="1434" y="168" width="7" height="2" fill="#26a69a"/>
<rect x="1446" y="141" width="1" height="27" fill="#26a69a"/>
<rect x="1443" y="145" width="7" height="23" fill="#26a69a"/>
<rect x="1455" y="138" width="1" height="26" fill="#ef5350"/>
<rect x="1452" y="145" width="7" height="17" fill="#ef5350"/>
<rect x="1464" y="146" width="1" height="20" fill="#26a69a"/>
<rect x="1461" y="159" width="7" height="3" fill="#26a69a"/>
<rect x="1473" y="136" width="1" height="43" fill="#ef5350"/>
<rect x="1470" y="159" width="7" height="16" fill="#ef5350"/>
<rect x="1482" y="163" width="1" height="17" fill="#26a69a"/>
<rect x="1479" y="171" width="7" height="4" fill="#26a69a"/>
</g>
<rect x="0" y="132" width="1670" height="3" fill="#0ac618"/>
<rect x="0" y="276" width="1670" height="3" fill="#0ac618"/>
<rect x="0" y="411" width="1670" height="3" fill="#0ac618"/>
<rect x="0" y="559.5" width="1670" height="3" fill="#0ac618"/>
<rect x="0" y="695.8" width="1670" height="3" fill="#0ac618"/>
<g shape-rendering="crispEdges" fill="#1f1f1f">
<rect x="1670" y="1" width="1" height="814"/>
<rect x="0" y="774" width="1763" height="1"/>
</g>
<g>
<text x="1684.4" y="60.1" font-size="17.4" fill="#d1d4dc" font-weight="normal" textLength="63.3" lengthAdjust="spacingAndGlyphs"  stroke="#d1d4dc" stroke-width="0.35">1.10800</text>
<text x="1684.4" y="116.5" font-size="17.4" fill="#d1d4dc" font-weight="normal" textLength="63.3" lengthAdjust="spacingAndGlyphs"  stroke="#d1d4dc" stroke-width="0.35">1.10600</text>
<text x="1684.4" y="229.4" font-size="17.4" fill="#d1d4dc" font-weight="normal" textLength="63.3" lengthAdjust="spacingAndGlyphs"  stroke="#d1d4dc" stroke-width="0.35">1.10200</text>
<text x="1684.4" y="285.9" font-size="17.4" fill="#d1d4dc" font-weight="normal" textLength="63.3" lengthAdjust="spacingAndGlyphs"  stroke="#d1d4dc" stroke-width="0.35">1.10000</text>
<text x="1684.4" y="342.3" font-size="17.4" fill="#d1d4dc" font-weight="normal" textLength="63.3" lengthAdjust="spacingAndGlyphs"  stroke="#d1d4dc" stroke-width="0.35">1.09800</text>
<text x="1684.4" y="398.8" font-size="17.4" fill="#d1d4dc" font-weight="normal" textLength="63.3" lengthAdjust="spacingAndGlyphs"  stroke="#d1d4dc" stroke-width="0.35">1.09600</text>
<text x="1684.4" y="455.2" font-size="17.4" fill="#d1d4dc" font-weight="normal" textLength="63.3" lengthAdjust="spacingAndGlyphs"  stroke="#d1d4dc" stroke-width="0.35">1.09400</text>
<text x="1684.4" y="511.7" font-size="17.4" fill="#d1d4dc" font-weight="normal" textLength="63.3" lengthAdjust="spacingAndGlyphs"  stroke="#d1d4dc" stroke-width="0.35">1.09200</text>
<text x="1684.4" y="568.2" font-size="17.4" fill="#d1d4dc" font-weight="normal" textLength="63.3" lengthAdjust="spacingAndGlyphs"  stroke="#d1d4dc" stroke-width="0.35">1.09000</text>
<text x="1684.4" y="624.6" font-size="17.4" fill="#d1d4dc" font-weight="normal" textLength="63.3" lengthAdjust="spacingAndGlyphs"  stroke="#d1d4dc" stroke-width="0.35">1.08800</text>
<text x="1684.4" y="681.1" font-size="17.4" fill="#d1d4dc" font-weight="normal" textLength="63.3" lengthAdjust="spacingAndGlyphs"  stroke="#d1d4dc" stroke-width="0.35">1.08600</text>
<text x="1684.4" y="737.5" font-size="17.4" fill="#d1d4dc" font-weight="normal" textLength="63.3" lengthAdjust="spacingAndGlyphs"  stroke="#d1d4dc" stroke-width="0.35">1.08400</text>
</g>
<path d="M1671 1H1758Q1763 1 1763 6V51H1671Z" fill="#000"/>
<rect x="1676.5" y="7.5" width="80" height="37" rx="4.5" fill="#131722" stroke="#3a3a3c" stroke-width="1"/>
<text x="1681.6" y="31.8" font-size="17.2" fill="#d1d4dc" font-weight="normal" textLength="30.8" lengthAdjust="spacingAndGlyphs"  stroke="#d1d4dc" stroke-width="0.35">USD</text>
<path d="M1742.3 24l3.9 3.7 3.9-3.7" fill="none" stroke="#d1d4dc" stroke-width="1.5"/>
<text x="136.75" y="801.9" font-size="17.4" fill="#d1d4dc" font-weight="normal" textLength="9.5" lengthAdjust="spacingAndGlyphs"  stroke="#d1d4dc" stroke-width="0.35">9</text>
<text x="347.75" y="801.9" font-size="17.4" fill="#d1d4dc" font-weight="normal" textLength="19.5" lengthAdjust="spacingAndGlyphs"  stroke="#d1d4dc" stroke-width="0.35">12</text>
<text x="563.75" y="801.9" font-size="17.4" fill="#d1d4dc" font-weight="normal" textLength="19.5" lengthAdjust="spacingAndGlyphs"  stroke="#d1d4dc" stroke-width="0.35">13</text>
<text x="779.75" y="801.9" font-size="17.4" fill="#d1d4dc" font-weight="normal" textLength="19.5" lengthAdjust="spacingAndGlyphs"  stroke="#d1d4dc" stroke-width="0.35">14</text>
<text x="995.75" y="801.9" font-size="17.4" fill="#d1d4dc" font-weight="normal" textLength="19.5" lengthAdjust="spacingAndGlyphs"  stroke="#d1d4dc" stroke-width="0.35">15</text>
<text x="1211.75" y="801.9" font-size="17.4" fill="#d1d4dc" font-weight="normal" textLength="19.5" lengthAdjust="spacingAndGlyphs"  stroke="#d1d4dc" stroke-width="0.35">16</text>
<text x="1427.75" y="801.9" font-size="17.4" fill="#d1d4dc" font-weight="normal" textLength="19.5" lengthAdjust="spacingAndGlyphs"  stroke="#d1d4dc" stroke-width="0.35">19</text>
<text x="1643.75" y="801.9" font-size="17.4" fill="#d1d4dc" font-weight="normal" textLength="19.5" lengthAdjust="spacingAndGlyphs"  stroke="#d1d4dc" stroke-width="0.35">20</text>
<g fill="none" stroke="#d1d4dc" stroke-width="1.5"><path d="M1706.5 795.7l5.3-9.2h10.6l5.3 9.2-5.3 9.2h-10.6z"/><circle cx="1717" cy="795.7" r="3.3"/></g>
<path d="M1594 158H1669V185H1594Q1591 185 1591 182V161Q1591 158 1594 158Z" fill="#26a69a"/>
<rect x="1669" y="158" width="1" height="27" fill="#000"/>
<path d="M1670 158H1753Q1756 158 1756 161V203Q1756 206 1753 206H1670Z" fill="#26a69a"/>
<text x="1598" y="177.7" font-size="17.6" fill="#ffffff" font-weight="normal" textLength="63" lengthAdjust="spacingAndGlyphs"  stroke="#ffffff" stroke-width="0.35">EURUSD</text>
<text x="1684.4" y="177.4" font-size="17.4" fill="#ffffff" font-weight="normal" textLength="62.9" lengthAdjust="spacingAndGlyphs"  stroke="#ffffff" stroke-width="0.35">1.10385</text>
<text x="1684.4" y="198.8" font-size="17.4" fill="#d4edea" font-weight="normal" textLength="43.6" lengthAdjust="spacingAndGlyphs"  stroke="#d4edea" stroke-width="0.35">15:53</text>
<g>
<clipPath id="us"><circle cx="31.4" cy="20.6" r="8.9"/></clipPath>
<g clip-path="url(#us)"><rect x="22" y="11" width="20" height="20" fill="#fff"/>
<rect x="22" y="11" width="20" height="4.6" fill="#ef5350"/>
<rect x="22" y="19.1" width="20" height="3.7" fill="#ef5350"/>
<rect x="22" y="26" width="20" height="4" fill="#ef5350"/>
<rect x="22" y="11" width="11" height="15" fill="#1f66cc"/>
<circle cx="24.6" cy="14.4" r="0.8" fill="#e4fbf6"/>
<circle cx="27.6" cy="14.4" r="0.8" fill="#e4fbf6"/>
<circle cx="30.6" cy="14.4" r="0.8" fill="#e4fbf6"/>
<circle cx="26.1" cy="15.9" r="0.8" fill="#e4fbf6"/>
<circle cx="29.1" cy="15.9" r="0.8" fill="#e4fbf6"/>
<circle cx="23.2" cy="16.4" r="0.8" fill="#e4fbf6"/>
<circle cx="24.6" cy="17.4" r="0.8" fill="#e4fbf6"/>
<circle cx="27.6" cy="17.4" r="0.8" fill="#e4fbf6"/>
<circle cx="30.6" cy="17.4" r="0.8" fill="#e4fbf6"/>
<circle cx="29.1" cy="18.9" r="0.8" fill="#e4fbf6"/>
<circle cx="30.8" cy="20.3" r="0.8" fill="#e4fbf6"/>
<circle cx="23" cy="18.6" r="0.8" fill="#e4fbf6"/>
<circle cx="25.8" cy="12.6" r="0.8" fill="#e4fbf6"/>
<circle cx="28.8" cy="12.6" r="0.8" fill="#e4fbf6"/>
</g>
<circle cx="21.9" cy="30" r="11" fill="#000"/>
<circle cx="21.9" cy="30" r="9.1" fill="#1e6fd0"/>
<rect x="21.00" y="23.80" width="1.8" height="1.8" fill="#d8805c"/>
<rect x="24.75" y="25.35" width="1.8" height="1.8" fill="#d8805c"/>
<rect x="26.30" y="29.10" width="1.8" height="1.8" fill="#d8805c"/>
<rect x="24.75" y="32.85" width="1.8" height="1.8" fill="#d8805c"/>
<rect x="21.00" y="34.40" width="1.8" height="1.8" fill="#d8805c"/>
<rect x="17.25" y="32.85" width="1.8" height="1.8" fill="#d8805c"/>
<rect x="15.70" y="29.10" width="1.8" height="1.8" fill="#d8805c"/>
<rect x="17.25" y="25.35" width="1.8" height="1.8" fill="#d8805c"/>
</g>
<text x="46.4" y="33.8" font-size="24" fill="#d1d4dc" font-weight="normal" textLength="48.4" lengthAdjust="spacingAndGlyphs"  stroke="#d1d4dc" stroke-width="0.35">Euro</text>
<text x="103.5" y="33.8" font-size="24" fill="#d1d4dc" font-weight="normal"  stroke="#d1d4dc" stroke-width="0.35">/</text>
<text x="121.2" y="33.8" font-size="24" fill="#d1d4dc" font-weight="normal" textLength="43.7" lengthAdjust="spacingAndGlyphs"  stroke="#d1d4dc" stroke-width="0.35">U.S.</text>
<text x="173.6" y="33.8" font-size="24" fill="#d1d4dc" font-weight="normal" textLength="63.7" lengthAdjust="spacingAndGlyphs"  stroke="#d1d4dc" stroke-width="0.35">Dollar</text>
<text x="255.7" y="33.8" font-size="24" fill="#d1d4dc" font-weight="normal" textLength="24.6" lengthAdjust="spacingAndGlyphs"  stroke="#d1d4dc" stroke-width="0.35">1h</text>
<text x="299.5" y="33.8" font-size="24" fill="#d1d4dc" font-weight="normal" textLength="147.4" lengthAdjust="spacingAndGlyphs"  stroke="#d1d4dc" stroke-width="0.35">PEPPERSTONE</text>
<circle cx="245.6" cy="27.3" r="1.9" fill="#d1d4dc"/><circle cx="289.3" cy="27.3" r="1.9" fill="#d1d4dc"/>
<path d="M482.5 12H499V39H482.5A13.5 13.5 0 0 1 482.5 12Z" fill="#0c231f"/>
<path d="M499 12H515.5A13.5 13.5 0 0 1 515.5 39H499Z" fill="#4a0e22"/>
<circle cx="486" cy="25" r="6" fill="#0fa37f"/>
<g fill="none" stroke="#ef5350" stroke-width="1.6" stroke-linecap="round"><path d="M508 22.6q2.2-1.8 4.5-0.6t4.7-0.8"/><path d="M508 28.4q2.2-1.8 4.5-0.6t4.7-0.8"/></g>
<text x="553.7" y="31.2" font-size="18.5" fill="#d1d4dc" font-weight="normal" textLength="12.0" lengthAdjust="spacingAndGlyphs"  stroke="#d1d4dc" stroke-width="0.35">O</text>
<text x="570" y="31.2" font-size="18.5" fill="#26a69a" font-weight="normal" textLength="67.1" lengthAdjust="spacingAndGlyphs"  stroke="#26a69a" stroke-width="0.35">1.10372</text>
<text x="645.8000000000001" y="31.2" font-size="18.5" fill="#d1d4dc" font-weight="normal" textLength="12.4" lengthAdjust="spacingAndGlyphs"  stroke="#d1d4dc" stroke-width="0.35">H</text>
<text x="660.5" y="31.2" font-size="18.5" fill="#26a69a" font-weight="normal" textLength="67.9" lengthAdjust="spacingAndGlyphs"  stroke="#26a69a" stroke-width="0.35">1.10413</text>
<text x="737.4000000000001" y="31.2" font-size="18.5" fill="#d1d4dc" font-weight="normal" textLength="10.2" lengthAdjust="spacingAndGlyphs"  stroke="#d1d4dc" stroke-width="0.35">L</text>
<text x="750.2" y="31.2" font-size="18.5" fill="#26a69a" font-weight="normal" textLength="66.4" lengthAdjust="spacingAndGlyphs"  stroke="#26a69a" stroke-width="0.35">1.10352</text>
<text x="826.7" y="31.2" font-size="18.5" fill="#d1d4dc" font-weight="normal" textLength="11.1" lengthAdjust="spacingAndGlyphs"  stroke="#d1d4dc" stroke-width="0.35">C</text>
<text x="840.8" y="31.2" font-size="18.5" fill="#26a69a" font-weight="normal" textLength="67.1" lengthAdjust="spacingAndGlyphs"  stroke="#26a69a" stroke-width="0.35">1.10385</text>
<text x="917.5" y="31.2" font-size="18.5" fill="#26a69a" font-weight="normal" textLength="78.5" lengthAdjust="spacingAndGlyphs"  stroke="#26a69a" stroke-width="0.35">+0.00013</text>
<text x="1002" y="31.2" font-size="18.5" fill="#26a69a" font-weight="normal" textLength="74.2" lengthAdjust="spacingAndGlyphs"  stroke="#26a69a" stroke-width="0.35">(+0.01%)</text>
<text x="13" y="67.8" font-size="19" fill="#d1d4dc" font-weight="normal" textLength="26" lengthAdjust="spacingAndGlyphs"  stroke="#d1d4dc" stroke-width="0.35">Vol</text>
<text x="51.5" y="67.8" font-size="19" fill="#26a69a" font-weight="normal" textLength="47.1" lengthAdjust="spacingAndGlyphs"  stroke="#26a69a" stroke-width="0.35">6.833</text>
<text x="102.8" y="67.8" font-size="19" fill="#26a69a" font-weight="normal" textLength="11.5" lengthAdjust="spacingAndGlyphs"  stroke="#26a69a" stroke-width="0.35">K</text>
<rect x="14.5" y="82.5" width="41" height="30" rx="3.5" fill="#000" stroke="#4a4d57" stroke-width="1"/>
<path d="M29.3 100.3l5.7-5.5 5.7 5.5" fill="none" stroke="#d1d4dc" stroke-width="1.5"/>
<g stroke="#131722" stroke-width="4" stroke-linejoin="round" fill="#131722">
<path d="M17.7 730.6H37.3V752.7H27.3V739.9H17.7Z"/><circle cx="43.9" cy="734.7" r="3.3"/><path d="M50.9 730.6H62.4L54.7 752.7H43.6Z"/>
</g>
<g fill="#d5d8e0">
<path d="M17.7 730.6H37.3V752.7H27.3V739.9H17.7Z"/><circle cx="43.9" cy="734.7" r="3.3"/><path d="M50.9 730.6H62.4L54.7 752.7H43.6Z"/>
</g>
<text x="73.7" y="752.7" font-size="31" fill="#d5d8e0" font-weight="bold" textLength="179.7" lengthAdjust="spacingAndGlyphs" stroke="#131722" stroke-width="4" stroke-linejoin="round" paint-order="stroke">TradingView</text>
<circle cx="1482.5" cy="754.5" r="16.6" fill="#131722"/>
<circle cx="1482.5" cy="754.5" r="14.7" fill="#131722" stroke="#bb4fd8" stroke-width="2"/>
<path d="M1487.5 746.4L1476 756H1481.9L1477.6 762.9L1489.3 753.1H1483.5Z" fill="#bb4fd8"/>
<circle cx="1493" cy="743.8" r="6.8" fill="#131722"/><circle cx="1493" cy="743.8" r="4.1" fill="#ef5350"/>
</g></svg></body></html>
